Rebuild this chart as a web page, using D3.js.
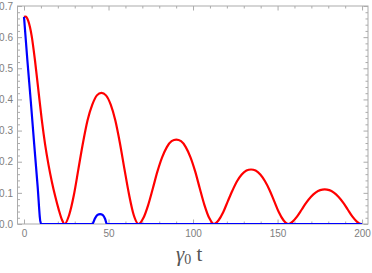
<!DOCTYPE html>
<html>
<head>
<meta charset="utf-8">
<script src="https://cdn.jsdelivr.net/npm/d3@7/dist/d3.min.js"></script>
<style>
  body { margin: 0; background: #fff; }
  svg { display: block; }
</style>
</head>
<body>
<div id="chart"></div>
<script>
// values
var redT = [0, 1, 2.5, 4.5, 6.5, 8.5, 10.5, 12.5, 14.5, 16.5, 18.5, 20.5, 22.5,
  24, 26.7, 29.5, 32.2, 34.9, 37.6, 40.4, 43.1, 45.8, 48.5, 51.3, 54.0, 56.7, 59.4, 62.2, 64.9,
  67.8, 70.6, 73.4, 76.2, 78.9, 81.7, 84.5, 87.3, 90.1, 92.9, 95.7, 98.5, 101.3, 104.0, 106.8, 109.6,
  112.4, 115.1, 117.9, 120.6, 123.4, 126.1, 128.8, 131.6, 134.3, 137.0, 139.8, 142.5, 145.3, 148.0, 150.7, 153.5,
  156.2, 158.9, 161.6, 164.3, 167.0, 169.8, 172.5, 175.2, 177.9, 180.6, 183.3, 186.0, 188.8, 191.5, 194.2, 196.9,
  199.6, 200];
var redV = [0.665, 0.666, 0.652, 0.605, 0.525, 0.430, 0.335, 0.255, 0.190, 0.135, 0.088, 0.047, 0.013,
  0, 0.029, 0.093, 0.177, 0.261, 0.333, 0.383, 0.413, 0.421, 0.413, 0.383, 0.333, 0.261, 0.177, 0.093, 0.029,
  0, 0.019, 0.060, 0.114, 0.168, 0.214, 0.247, 0.266, 0.271, 0.266, 0.247, 0.214, 0.168, 0.114, 0.060, 0.019,
  0, 0.012, 0.0385, 0.0735, 0.1085, 0.138, 0.159, 0.1715, 0.175, 0.1715, 0.159, 0.138, 0.1085, 0.0735, 0.0385, 0.012,
  0, 0.0078, 0.0244, 0.0466, 0.0688, 0.0877, 0.101, 0.1088, 0.111, 0.1088, 0.101, 0.0877, 0.0688, 0.0466, 0.0244, 0.0078,
  0, 0.0005];
var blueT = [0, 2, 4, 6, 8, 10, 40.4, 42, 43.5, 45, 46.5, 48, 49, 200];
var blueV = [0.665, 0.525, 0.395, 0.258, 0.125, 0, 0, 0.018, 0.029, 0.032, 0.029, 0.016, 0, 0];

var xMajor = [0, 50, 100, 150, 200];
var xMinor = [10, 20, 30, 40, 60, 70, 80, 90, 110, 120, 130, 140, 160, 170, 180, 190];
var yMajor = [0, 0.1, 0.2, 0.3, 0.4, 0.5, 0.6, 0.7];
var yMinor = [0.02, 0.04, 0.06, 0.08, 0.12, 0.14, 0.16, 0.18, 0.22, 0.24, 0.26, 0.28,
  0.32, 0.34, 0.36, 0.38, 0.42, 0.44, 0.46, 0.48, 0.52, 0.54, 0.56, 0.58, 0.62, 0.64, 0.66, 0.68];

var width = 372, height = 273;
var mLeft = 17.5, mRight = 368, mTop = 6, mBottom = 224;

var svg = d3.select("#chart").append("svg")
  .attr("width", width)
  .attr("height", height);

var x = d3.scaleLinear().domain([-3.85, 203.5]).range([mLeft, mRight]);
var y = d3.scaleLinear().domain([0, 0.7]).range([mBottom, mTop]);

svg.append("clipPath").attr("id", "clip")
  .append("rect")
  .attr("x", mLeft).attr("y", mTop)
  .attr("width", mRight - mLeft).attr("height", mBottom - mTop);

var tickCol = "#ababab", labelCol = "#7e7e7e";

function styleAxis(g) {
  g.select(".domain").remove();
  g.selectAll("line").attr("stroke", tickCol);
  g.selectAll("text").attr("fill", labelCol)
    .attr("font-family", "Liberation Sans, Arial, sans-serif")
    .attr("font-size", "10px");
}

// bottom
svg.append("g").attr("transform", "translate(0," + mBottom + ")")
  .call(d3.axisBottom(x).tickValues(xMajor).tickSize(-4.5).tickPadding(6).tickFormat(d3.format("d")))
  .call(styleAxis);
svg.append("g").attr("transform", "translate(0," + mBottom + ")")
  .call(d3.axisBottom(x).tickValues(xMinor).tickSize(-2.5).tickFormat(""))
  .call(styleAxis);
// top
svg.append("g").attr("transform", "translate(0," + mTop + ")")
  .call(d3.axisTop(x).tickValues(xMajor).tickSize(-4.5).tickFormat(""))
  .call(styleAxis);
svg.append("g").attr("transform", "translate(0," + mTop + ")")
  .call(d3.axisTop(x).tickValues(xMinor).tickSize(-2.5).tickFormat(""))
  .call(styleAxis);
// left
svg.append("g").attr("transform", "translate(" + mLeft + ",0)")
  .call(d3.axisLeft(y).tickValues(yMajor).tickSize(-4.5).tickPadding(4.5).tickFormat(d3.format(".1f")))
  .call(styleAxis);
svg.append("g").attr("transform", "translate(" + mLeft + ",0)")
  .call(d3.axisLeft(y).tickValues(yMinor).tickSize(-2.5).tickFormat(""))
  .call(styleAxis);
// right
svg.append("g").attr("transform", "translate(" + mRight + ",0)")
  .call(d3.axisRight(y).tickValues(yMajor).tickSize(-4.5).tickFormat(""))
  .call(styleAxis);
svg.append("g").attr("transform", "translate(" + mRight + ",0)")
  .call(d3.axisRight(y).tickValues(yMinor).tickSize(-2.5).tickFormat(""))
  .call(styleAxis);

// frame
svg.append("rect")
  .attr("x", mLeft).attr("y", mTop)
  .attr("width", mRight - mLeft).attr("height", mBottom - mTop)
  .attr("fill", "none")
  .attr("stroke", tickCol)
  .attr("stroke-width", 1);

var line = d3.line()
  .x(d => x(d[0]))
  .y(d => y(d[1]))
  .curve(d3.curveMonotoneX);

var plot = svg.append("g").attr("clip-path", "url(#clip)");

plot.append("path")
  .datum(d3.zip(redT, redV))
  .attr("fill", "none")
  .attr("stroke", "#ff0000")
  .attr("stroke-width", 2.2)
  .attr("stroke-linejoin", "round")
  .attr("d", line);

plot.append("path")
  .datum(d3.zip(blueT, blueV))
  .attr("fill", "none")
  .attr("stroke", "#0000ff")
  .attr("stroke-width", 2.2)
  .attr("stroke-linejoin", "round")
  .attr("d", line);

// axis title
var title = svg.append("text")
  .attr("x", 176)
  .attr("y", 261)
  .attr("fill", "#555")
  .attr("font-family", "Liberation Serif, Times New Roman, serif")
  .attr("font-size", "21px");
title.append("tspan").attr("font-style", "italic").text("γ");
title.append("tspan").attr("font-size", "14px").attr("dy", 3).text("0");
title.append("tspan").attr("dy", -3).text(" t");
</script>
</body>
</html>
